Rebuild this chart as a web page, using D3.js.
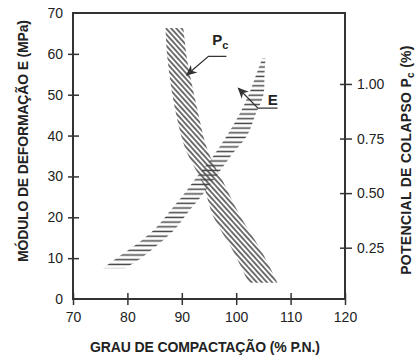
<!DOCTYPE html>
<html>
    <head>
        <meta charset="utf-8">
        <title>E e Pc x grau de compactação</title>
        <script src="https://d3js.org/d3.v7.min.js" charset="utf-8"></script>
        <style>
            body { margin: 0; background: #fff; }
            text { font-family: "Liberation Sans", Arial, sans-serif; fill: #222; }
            .tick text { font-family: "Liberation Sans Narrow", "Arial Narrow", "Liberation Sans", sans-serif; font-size: 14px; }
        </style>
    </head>
    <body>
        <script>
            // ticks
            var xTicks = [70, 80, 90, 100, 110, 120];
            var yTicks = [0, 10, 20, 30, 40, 50, 60, 70];
            var pcTicks = [0.25, 0.50, 0.75, 1.00];

            // faixa do modulo E : nivel E (MPa) e limites de GC (%)
            var eLevels = [7.5, 10, 13.5, 17.5, 21, 25.5, 30, 35, 40, 45, 50, 55, 59];
            var eLow    = [75.5, 78.0, 81.8, 85.3, 87.5, 90.3, 92.8, 95.8, 98.3, 100.5, 102.3, 103.7, 104.8];
            var eHigh   = [79.5, 82.5, 85.8, 89.0, 91.0, 93.8, 96.3, 99.0, 102.0, 103.5, 105.0, 105.2, 105.4];

            // faixa do potencial de colapso Pc (%)
            var pcLevels = [1.256, 1.11, 0.88, 0.70, 0.547, 0.392, 0.241, 0.09];
            var pcLow    = [87.0, 87.4, 88.8, 90.7, 93.8, 95.8, 99.3, 102.3];
            var pcHigh   = [90.3, 91.0, 92.9, 94.7, 97.7, 100.8, 104.5, 107.6];

            var margin = {top: 13, left: 73},
                width = 272,
                height = 286;

            var svg = d3.select("body").append("svg")
                .attr("width", 415)
                .attr("height", 357);

            var g = svg.append("g")
                .attr("transform", "translate(" + margin.left + "," + margin.top + ")");

            var x = d3.scaleLinear().domain([70, 120]).range([0, width]);
            var y = d3.scaleLinear().domain([0, 70]).range([height, 0]);
            var yR = d3.scaleLinear().domain([0.015, 1.325]).range([height, 0]);

            // hachuras
            var defs = svg.append("defs");
            defs.append("pattern")
                .attr("id", "hatchE")
                .attr("patternUnits", "userSpaceOnUse")
                .attr("width", 10).attr("height", 4.7)
                .append("line")
                .attr("x1", 0).attr("x2", 10).attr("y1", 2.3).attr("y2", 2.3)
                .attr("stroke", "#444").attr("stroke-width", 1.5);
            defs.append("pattern")
                .attr("id", "hatchPc")
                .attr("patternUnits", "userSpaceOnUse")
                .attr("width", 10).attr("height", 3.8)
                .attr("patternTransform", "rotate(48)")
                .append("line")
                .attr("x1", 0).attr("x2", 10).attr("y1", 1.9).attr("y2", 1.9)
                .attr("stroke", "#444").attr("stroke-width", 1.5);

            var eData = eLevels.map(function(v, i) { return {v: v, lo: eLow[i], hi: eHigh[i]}; });
            var pcData = pcLevels.map(function(v, i) { return {v: v, lo: pcLow[i], hi: pcHigh[i]}; });

            var eArea = d3.area()
                .y(function(d) { return y(d.v); })
                .x0(function(d) { return x(d.lo); })
                .x1(function(d) { return x(d.hi); })
                .curve(d3.curveCatmullRom);
            var pcArea = d3.area()
                .y(function(d) { return yR(d.v); })
                .x0(function(d) { return x(d.lo); })
                .x1(function(d) { return x(d.hi); })
                .curve(d3.curveCatmullRom);

            g.append("path").datum(pcData).attr("d", pcArea).attr("fill", "url(#hatchPc)");
            g.append("path").datum(eData).attr("d", eArea).attr("fill", "url(#hatchE)");

            // eixos
            var axLeft = g.append("g").call(d3.axisLeft(y).tickValues(yTicks).tickSize(6).tickPadding(4));
            axLeft.selectAll(".tick line").attr("x1", -5).attr("x2", 6);
            var axBottom = g.append("g").attr("transform", "translate(0," + height + ")")
                .call(d3.axisBottom(x).tickValues(xTicks).tickSize(6).tickPadding(7));
            axBottom.selectAll(".tick line").attr("y1", -6).attr("y2", 6);
            var axRight = g.append("g").attr("transform", "translate(" + width + ",0)")
                .call(d3.axisRight(yR).tickValues(pcTicks).tickFormat(d3.format(".2f")).tickSize(7).tickPadding(5));
            axRight.selectAll(".tick line").attr("x1", -5).attr("x2", 7);

            svg.selectAll(".domain").remove();
            svg.selectAll(".tick line").attr("stroke", "#333").attr("stroke-width", 1.5);
            svg.selectAll(".tick text").attr("fill", "#222");
            // nos cantos nao ha traco
            axLeft.selectAll(".tick").filter(function(d) { return d === 0 || d === 70; }).select("line").remove();

            g.append("rect")
                .attr("width", width).attr("height", height)
                .attr("fill", "none").attr("stroke", "#333").attr("stroke-width", 2);

            // setas de identificacao
            defs.append("marker")
                .attr("id", "seta")
                .attr("viewBox", "0 0 10 10")
                .attr("refX", 9).attr("refY", 5)
                .attr("markerWidth", 11).attr("markerHeight", 11)
                .attr("markerUnits", "userSpaceOnUse")
                .attr("orient", "auto-start-reverse")
                .append("path").attr("d", "M10,5L0,0.5L3,5L0,9.5Z").attr("fill", "#333");

            var pcArrow = [[90.9, 54.8], [94.9, 59.4], [98.2, 59.4]];
            var eArrow = [[100.4, 51.6], [104.0, 46.7], [107.6, 46.7]];
            var lineGen = d3.line().x(function(d) { return x(d[0]); }).y(function(d) { return y(d[1]); });
            [pcArrow, eArrow].forEach(function(a) {
                g.append("path").attr("d", lineGen(a))
                    .attr("fill", "none").attr("stroke", "#333").attr("stroke-width", 1.3)
                    .attr("marker-start", "url(#seta)");
            });

            var pLab = g.append("text")
                .attr("x", x(95.6)).attr("y", y(62.2))
                .style("font-size", "15px").style("font-weight", "bold");
            pLab.append("tspan").text("P");
            pLab.append("tspan").attr("dy", 4).style("font-size", "11px").text("c");

            g.append("text")
                .attr("x", x(105.8)).attr("y", y(47.4))
                .style("font-size", "15px").style("font-weight", "bold")
                .text("E");

            // titulos dos eixos
            svg.append("text")
                .attr("transform", "translate(28,141) rotate(-90)")
                .attr("text-anchor", "middle")
                .attr("textLength", 242).attr("lengthAdjust", "spacing")
                .style("font-size", "14px").style("font-weight", "bold")
                .text("MÓDULO DE DEFORMAÇÃO  E (MPa)");

            var rt = svg.append("text")
                .attr("transform", "translate(411,160) rotate(-90)")
                .attr("text-anchor", "middle")
                .style("font-size", "14px").style("font-weight", "bold")
                .style("letter-spacing", "0.3px");
            rt.append("tspan").text("POTENCIAL DE COLAPSO  P");
            rt.append("tspan").attr("dy", 3).style("font-size", "10px").text("c");
            rt.append("tspan").attr("dy", -3).text(" (%)");

            svg.append("text")
                .attr("x", 205).attr("y", 352)
                .attr("text-anchor", "middle")
                .attr("textLength", 230).attr("lengthAdjust", "spacing")
                .style("font-size", "14px").style("font-weight", "bold")
                .text("GRAU DE COMPACTAÇÃO (% P.N.)");
        </script>
    </body>
</html>
